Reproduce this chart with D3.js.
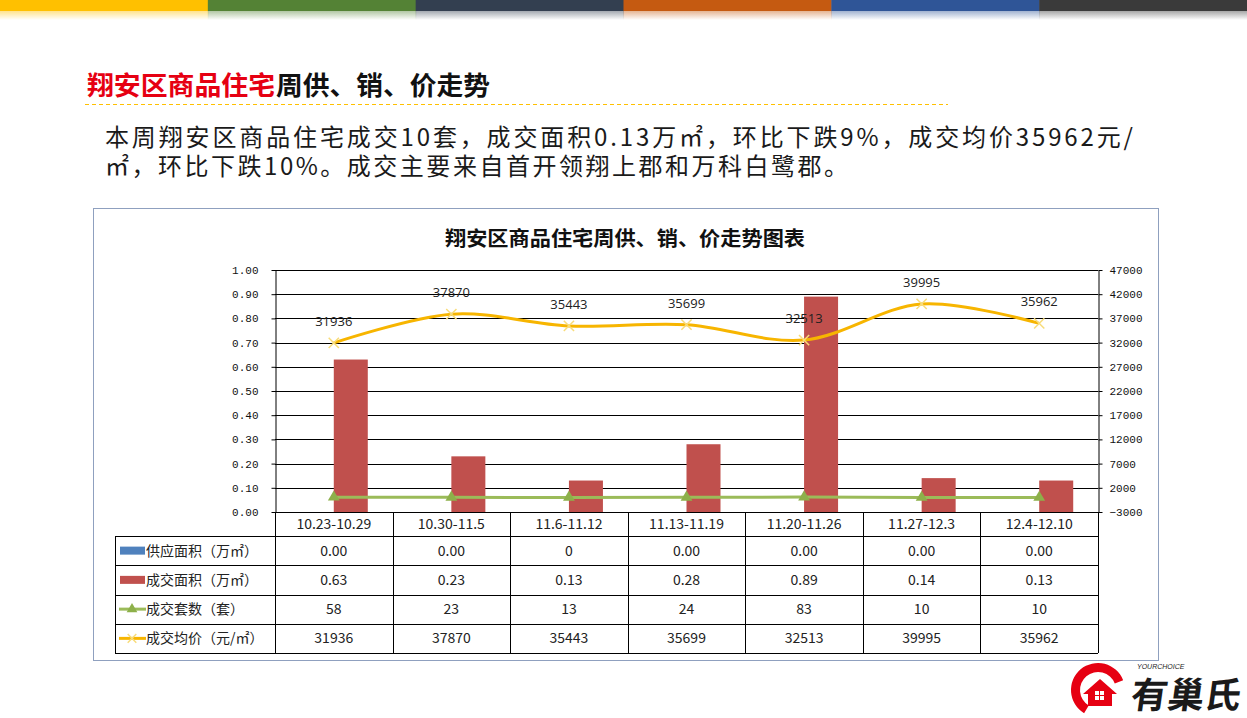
<!DOCTYPE html>
<html>
<head>
  <meta charset="utf-8">
  <style>
    body { margin: 0; background: #fff; }
    svg { display: block; font-family: "Noto Sans CJK SC", sans-serif; }
  </style>
</head>
<body>
  <svg id="chart" width="1247" height="718"></svg>
  <script src="https://cdn.jsdelivr.net/npm/d3@7"></script>
  <script>

    // ---- data ----
    var categories = ["10.23-10.29", "10.30-11.5", "11.6-11.12", "11.13-11.19", "11.20-11.26", "11.27-12.3", "12.4-12.10"];
    var supplyArea = [0, 0, 0, 0, 0, 0, 0];
    var supplyLabels = ["0.00", "0.00", "0", "0.00", "0.00", "0.00", "0.00"];
    var dealArea = [0.63, 0.23, 0.13, 0.28, 0.89, 0.14, 0.13];
    var dealUnits = [58, 23, 13, 24, 83, 10, 10];
    var avgPrice = [31936, 37870, 35443, 35699, 32513, 39995, 35962];
    var leftTicks = [0, 0.1, 0.2, 0.3, 0.4, 0.5, 0.6, 0.7, 0.8, 0.9, 1.0];
    var rightTicks = [-3000, 2000, 7000, 12000, 17000, 22000, 27000, 32000, 37000, 42000, 47000];
    var seriesNames = ["供应面积（万㎡）", "成交面积（万㎡）", "成交套数（套）", "成交均价（元/㎡）"];
    var topBarColors = ["#FFC000", "#548235", "#333F50", "#C55A11", "#2F5597", "#3A3A3A"];

    var blue = "#4F81BD", red = "#C0504D", green = "#9BBB59", gold = "#FFC000";

    var svg = d3.select("#chart");
    var defs = svg.append("defs");

    // ---- coloured strip at the top ----
    var segW = 1247 / topBarColors.length;
    topBarColors.forEach(function (c, i) {
      var g = defs.append("linearGradient").attr("id", "fade" + i)
        .attr("x1", 0).attr("y1", 0).attr("x2", 0).attr("y2", 1);
      g.append("stop").attr("offset", "0%").attr("stop-color", c).attr("stop-opacity", 0.45);
      g.append("stop").attr("offset", "100%").attr("stop-color", c).attr("stop-opacity", 0);
      svg.append("rect").attr("x", i * segW).attr("y", 0).attr("width", segW + 0.5).attr("height", 11).attr("fill", c);
      svg.append("rect").attr("x", i * segW).attr("y", 11).attr("width", segW + 0.5).attr("height", 9).attr("fill", "url(#fade" + i + ")");
    });

    // ---- heading and summary text ----
    svg.append("text").text("翔安区商品住宅")
      .attr("x", 87).attr("y", 95)
      .attr("font-size", 26).attr("font-weight", "bold").attr("fill", "#E60012")
      .attr("textLength", 188).attr("lengthAdjust", "spacingAndGlyphs");
    svg.append("text").text("周供、销、价走势")
      .attr("x", 276).attr("y", 95)
      .attr("font-size", 26).attr("font-weight", "bold").attr("fill", "#111")
      .attr("textLength", 214).attr("lengthAdjust", "spacingAndGlyphs");
    svg.append("line")
      .attr("x1", 85).attr("x2", 948).attr("y1", 104.5).attr("y2", 104.5)
      .attr("stroke", gold).attr("stroke-dasharray", "4,3").attr("stroke-width", 1);

    svg.append("text").text("本周翔安区商品住宅成交10套，成交面积0.13万㎡，环比下跌9%，成交均价35962元/")
      .attr("x", 105).attr("y", 146)
      .attr("font-size", 24).attr("fill", "#1a1a1a")
      .attr("textLength", 1028).attr("lengthAdjust", "spacing");
    svg.append("text").text("㎡，环比下跌10%。成交主要来自首开领翔上郡和万科白鹭郡。")
      .attr("x", 105).attr("y", 175)
      .attr("font-size", 24).attr("fill", "#1a1a1a")
      .attr("textLength", 743).attr("lengthAdjust", "spacing");

    // ---- chart frame ----
    svg.append("rect")
      .attr("x", 93.5).attr("y", 208.5).attr("width", 1065).attr("height", 452)
      .attr("fill", "none").attr("stroke", "#8FA0BF").attr("stroke-width", 1);

    svg.append("text").text("翔安区商品住宅周供、销、价走势图表")
      .attr("x", 445).attr("y", 246)
      .attr("font-size", 20).attr("font-weight", "bold").attr("fill", "#111")
      .attr("textLength", 360).attr("lengthAdjust", "spacingAndGlyphs");

    // ---- scales ----
    var x = d3.scaleBand().domain(categories).range([275, 1098]);
    var bw = x.bandwidth();
    var yL = d3.scaleLinear().domain([0, 1]).range([512, 270]);
    var yR = d3.scaleLinear().domain([-3000, 47000]).range([512, 270]);
    var sub = d3.scaleBand().domain(["supply", "deal"]).range([-34, 34]);

    // gridlines
    svg.append("g").selectAll("line").data(leftTicks).enter().append("line")
      .attr("x1", 275).attr("x2", 1098)
      .attr("y1", function (d) { return Math.round(yL(d)) + 0.5; })
      .attr("y2", function (d) { return Math.round(yL(d)) + 0.5; })
      .attr("stroke", "#000").attr("stroke-width", 1);

    // bars
    var bars = svg.append("g");
    bars.selectAll("rect.supply").data(supplyArea).enter().append("rect")
      .attr("class", "supply")
      .attr("x", function (d, i) { return x(categories[i]) + bw / 2 + sub("supply"); })
      .attr("width", sub.bandwidth())
      .attr("y", function (d) { return yL(d); })
      .attr("height", function (d) { return yL(0) - yL(d); })
      .attr("fill", blue);
    bars.selectAll("rect.deal").data(dealArea).enter().append("rect")
      .attr("class", "deal")
      .attr("x", function (d, i) { return x(categories[i]) + bw / 2 + sub("deal"); })
      .attr("width", sub.bandwidth())
      .attr("y", function (d) { return yL(d); })
      .attr("height", function (d) { return yL(0) - yL(d); })
      .attr("fill", red);

    // axes
    var axL = svg.append("g").attr("transform", "translate(275.5,0)")
      .call(d3.axisLeft(yL).tickValues(leftTicks).tickFormat(d3.format(".2f")).tickSize(4).tickSizeOuter(0).tickPadding(13));
    var axR = svg.append("g").attr("transform", "translate(1098.5,0)")
      .call(d3.axisRight(yR).tickValues(rightTicks).tickFormat(d3.format("d")).tickSize(4).tickSizeOuter(0).tickPadding(7));
    [axL, axR].forEach(function (ax) {
      ax.attr("font-family", "'Liberation Mono', 'DejaVu Sans Mono', monospace").attr("font-size", 11);
      ax.selectAll("text").attr("fill", "#111");
      ax.selectAll("line, path").attr("stroke", "#000");
    });

    // 成交套数 line (right axis)
    var cx = function (i) { return x(categories[i]) + bw / 2; };
    var unitLine = d3.line().x(function (d, i) { return cx(i); }).y(function (d) { return yR(d); });
    svg.append("path").datum(dealUnits)
      .attr("d", unitLine).attr("fill", "none")
      .attr("stroke", green).attr("stroke-width", 3);
    svg.append("g").selectAll("path").data(dealUnits).enter().append("path")
      .attr("d", d3.symbol().type(d3.symbolTriangle).size(60))
      .attr("transform", function (d, i) { return "translate(" + cx(i) + "," + yR(d) + ")"; })
      .attr("fill", "#8DB04A");

    // 成交均价 smooth line (right axis)
    var priceLine = d3.line().curve(d3.curveCardinal.tension(0))
      .x(function (d, i) { return cx(i); }).y(function (d) { return yR(d); });
    svg.append("path").datum(avgPrice)
      .attr("d", priceLine).attr("fill", "none")
      .attr("stroke", "#F7B500").attr("stroke-width", 3);
    svg.append("g").selectAll("path").data(avgPrice).enter().append("path")
      .attr("d", d3.symbol().type(d3.symbolX).size(70))
      .attr("transform", function (d, i) { return "translate(" + cx(i) + "," + yR(d) + ")"; })
      .attr("fill", "none").attr("stroke", "#F8DC7A").attr("stroke-width", 1.5);
    svg.append("g").selectAll("text").data(avgPrice).enter().append("text")
      .attr("x", function (d, i) { return cx(i); })
      .attr("y", function (d) { return yR(d) - 17; })
      .attr("text-anchor", "middle")
      .attr("font-family", "'Open Sans', sans-serif").attr("font-size", 13).attr("fill", "#222")
      .text(function (d) { return d; });

    // ---- data table ----
    var rowTop = 536, rowH = 29.25;
    var table = svg.append("g").attr("stroke", "#000").attr("stroke-width", 1);
    // vertical lines of value columns
    var colEdges = categories.map(function (c) { return x(c); }).concat([x.range()[1]]);
    table.selectAll("line.v").data(colEdges).enter().append("line")
      .attr("x1", function (d) { return Math.round(d) + 0.5; })
      .attr("x2", function (d) { return Math.round(d) + 0.5; })
      .attr("y1", 512).attr("y2", rowTop + rowH * 4);
    table.append("line").attr("x1", 115.5).attr("x2", 115.5).attr("y1", rowTop).attr("y2", rowTop + rowH * 4);
    table.selectAll("line.h").data(d3.range(5)).enter().append("line")
      .attr("x1", 115).attr("x2", 1098)
      .attr("y1", function (d) { return Math.round(rowTop + d * rowH) + 0.5; })
      .attr("y2", function (d) { return Math.round(rowTop + d * rowH) + 0.5; });
    table.append("line").attr("x1", 275).attr("x2", 1098).attr("y1", 512.5).attr("y2", 512.5);

    var cells = svg.append("g").attr("font-size", 14).attr("fill", "#222").attr("text-anchor", "middle");
    cells.selectAll("text.cat").data(categories).enter().append("text")
      .attr("x", function (d) { return x(d) + bw / 2; }).attr("y", 529)
      .text(function (d) { return d; });
    var rows = [supplyLabels, dealArea.map(d3.format(".2f")), dealUnits, avgPrice];
    rows.forEach(function (row, r) {
      cells.append("g").selectAll("text").data(row).enter().append("text")
        .attr("x", function (d, i) { return cx(i); })
        .attr("y", rowTop + r * rowH + rowH / 2 + 5)
        .text(function (d) { return d; });
    });

    // legend keys in the first column
    var legend = svg.append("g");
    seriesNames.forEach(function (name, r) {
      var ym = rowTop + r * rowH + rowH / 2;
      if (r < 2) {
        legend.append("rect").attr("x", 120).attr("y", ym - 4).attr("width", 25).attr("height", 8)
          .attr("fill", r === 0 ? blue : red);
      } else {
        legend.append("line").attr("x1", 119).attr("x2", 146).attr("y1", ym).attr("y2", ym)
          .attr("stroke", r === 2 ? green : "#F7B500").attr("stroke-width", 3);
        legend.append("path")
          .attr("d", d3.symbol().type(r === 2 ? d3.symbolTriangle : d3.symbolX).size(50))
          .attr("transform", "translate(132," + ym + ")")
          .attr("fill", r === 2 ? "#8DB04A" : "none")
          .attr("stroke", r === 2 ? "none" : "#F8DC7A").attr("stroke-width", 1.5);
      }
      legend.append("text").attr("x", 146).attr("y", ym + 5)
        .attr("font-size", 14).attr("fill", "#222").text(name);
    });

    // ---- logo ----
    var logo = svg.append("g");
    logo.append("path")
      .attr("d", d3.arc().innerRadius(18).outerRadius(27).startAngle(-2.6).endAngle(1.2)())
      .attr("transform", "translate(1098,690)").attr("fill", "#E60012");
    logo.append("path")
      .attr("d", "M1083,694 L1100,679 L1117,694 L1112,694 L1112,706 L1088,706 L1088,694 Z")
      .attr("fill", "#E60012");
    logo.append("rect").attr("x", 1095).attr("y", 691).attr("width", 9).attr("height", 9).attr("fill", "#fff");
    logo.append("line").attr("x1", 1099.5).attr("x2", 1099.5).attr("y1", 691).attr("y2", 700).attr("stroke", "#E60012");
    logo.append("line").attr("x1", 1095).attr("x2", 1104).attr("y1", 695.5).attr("y2", 695.5).attr("stroke", "#E60012");
    logo.append("text").text("YOURCHOICE")
      .attr("x", 1137).attr("y", 669).attr("font-size", 7).attr("font-style", "italic")
      .attr("font-family", "'Liberation Sans', sans-serif").attr("fill", "#222");
    logo.append("text").text("有巢氏")
      .attr("x", 1131).attr("y", 708).attr("font-size", 36).attr("font-weight", "bold")
      .attr("fill", "#1a1a1a").attr("textLength", 110).attr("lengthAdjust", "spacingAndGlyphs")
      .attr("transform", "skewX(-8) translate(98,0)");
  </script>
</body>
</html>
